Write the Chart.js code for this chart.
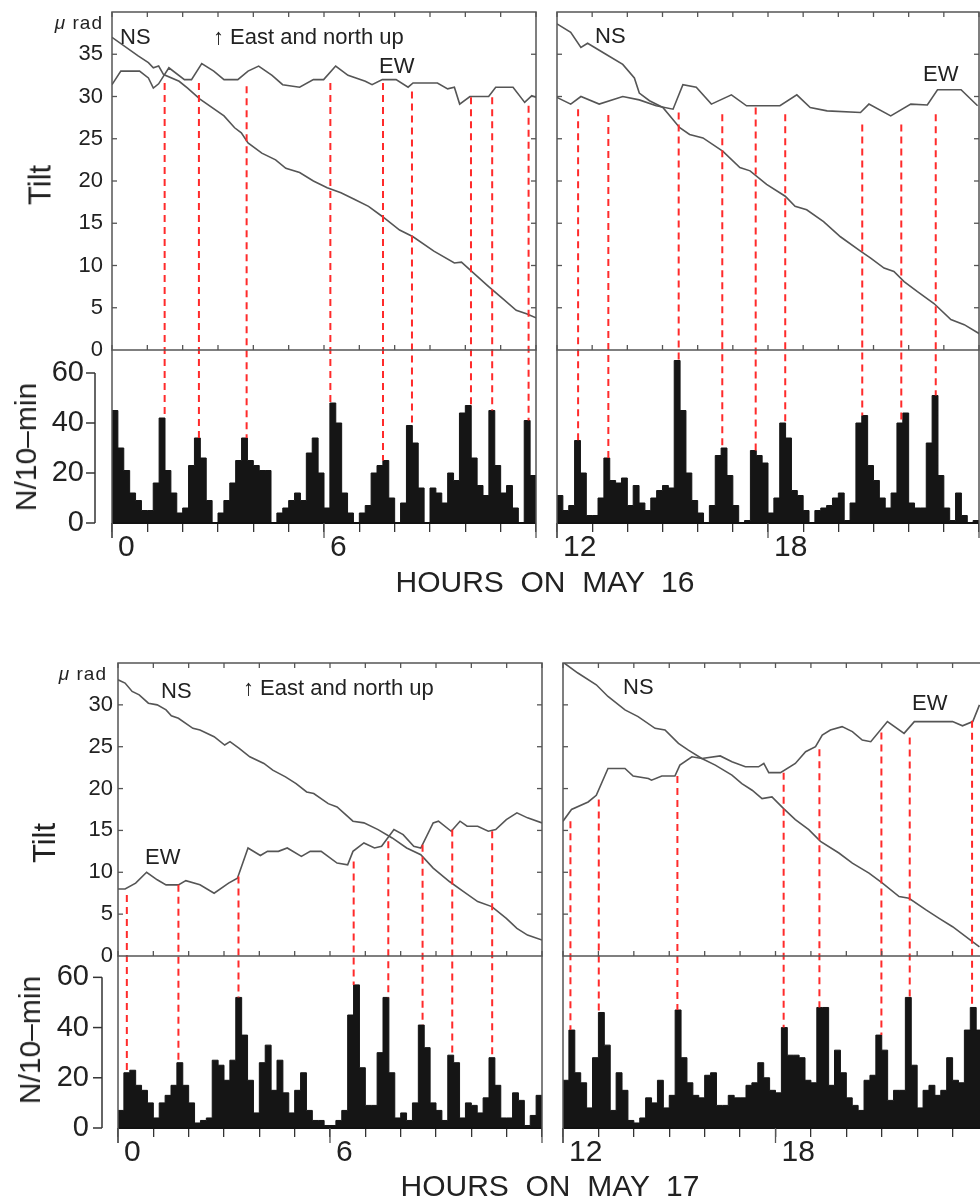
<!DOCTYPE html>
<html>
<head>
<meta charset="utf-8">
<title>Tilt and N/10-min, May 16-17</title>
<script src="https://cdn.jsdelivr.net/npm/chart.js@4.4.1/dist/chart.umd.min.js"></script>
<style>
  html, body { margin: 0; padding: 0; background: #fff; }
  body { position: relative; width: 980px; height: 1204px; overflow: hidden;
         font-family: 'Liberation Sans', Arial, sans-serif; color: #222; }
  canvas { position: absolute; }
  .lbl { position: absolute; white-space: pre; line-height: 1; transform: translateY(-50%); }
  .mid { position: absolute; white-space: pre; line-height: 1; transform: translate(-50%, -50%); }
  .up  { position: absolute; white-space: pre; line-height: 1; transform: translate(-50%, -50%) rotate(-90deg); }
</style>
</head>
<body>
<canvas id="c16a" width="545" height="575" style="left:0;top:0"></canvas>
<canvas id="c16b" width="460" height="575" style="left:540px;top:0"></canvas>
<canvas id="c17a" width="550" height="545" style="left:0;top:650px"></canvas>
<canvas id="c17b" width="455" height="545" style="left:545px;top:650px"></canvas>

<!-- May 16 -->
<div class="lbl" style="right:877px;top:22px;font-size:19px;letter-spacing:1px"><i>μ</i> rad</div>
<div class="lbl" style="left:120px;top:37px;font-size:22px">NS</div>
<div class="lbl" style="left:213px;top:37px;font-size:22px">↑ East and north up</div>
<div class="lbl" style="left:379px;top:66px;font-size:22px">EW</div>
<div class="lbl" style="left:595px;top:36px;font-size:22px">NS</div>
<div class="lbl" style="left:923px;top:74px;font-size:22px">EW</div>
<div class="up" style="left:40px;top:185px;font-size:31px">Tilt</div>
<div class="up" style="left:26px;top:447px;font-size:30px">N/10–min</div>
<div class="mid" style="left:545px;top:582px;font-size:30px">HOURS  ON  MAY  16</div>

<!-- May 17 -->
<div class="lbl" style="right:873px;top:673px;font-size:19px;letter-spacing:1px"><i>μ</i> rad</div>
<div class="lbl" style="left:161px;top:691px;font-size:22px">NS</div>
<div class="lbl" style="left:243px;top:688px;font-size:22px">↑ East and north up</div>
<div class="lbl" style="left:145px;top:857px;font-size:22px">EW</div>
<div class="lbl" style="left:623px;top:687px;font-size:22px">NS</div>
<div class="lbl" style="left:912px;top:703px;font-size:22px">EW</div>
<div class="up" style="left:44px;top:843px;font-size:31px">Tilt</div>
<div class="up" style="left:30px;top:1040px;font-size:30px">N/10–min</div>
<div class="mid" style="left:550px;top:1186px;font-size:30px">HOURS  ON  MAY  17</div>

<script>
const FONT = "'Liberation Sans', Arial, sans-serif";

// hour labels under the count histograms
const hourLabelsAM = [0, 6];
const hourLabelsPM = [12, 18];

// ---------- May 16 ----------
// earthquake counts per 10-min bin
const may16CountsAM = [45,30,21,12,9,5,5,16,42,21, 12,4,6,23,34,26,9,0,4,9, 16,25,34,25,23,21,21,0,4,6,
  9,12,9,28,34,20,6,48,40,12, 4,0,4,7,20,23,25,10,0,8, 39,32,14,0,14,12,8,20,17,44, 47,26,15,11,45,23,12,15,6,0, 41,19];
const may16CountsPM = [11,5,7,33,20,3,3,10,26,17, 16,18,7,15,8,5,10,13,15,14, 65,45,20,9,4,0,7,27,30,19,
  7,0,1,29,27,24,4,10,40,34, 13,11,5,0,5,6,7,10,12,1, 8,40,43,23,17,10,6,12,40,44, 8,6,6,32,51,19,6,1,12,3, 0,1];

// tilt curves, [hour, microradian]
const may16NSAM = [[0,37.0],[0.74,34.8],[1.03,34.0],[1.17,33.4],[1.32,33.6],[1.46,32.6],[1.9,31.8],[2.14,31.0],
  [2.49,29.7],[3.17,27.7],[3.47,26.3],[3.66,25.7],[3.85,24.5],[4.24,23.3],[4.63,22.5],[4.92,21.5],[5.31,21.0],
  [5.7,20.0],[6.09,19.2],[6.48,18.6],[6.87,17.8],[7.26,17.0],[7.65,15.8],[8.14,14.2],[8.52,13.4],[9.11,11.7],
  [9.69,10.3],[9.89,10.4],[10.18,9.3],[10.66,7.5],[11.05,6.1],[11.44,4.7],[11.73,4.3],[12,3.8]];
const may16EWAM = [[0,31.4],[0.25,33.0],[0.78,33.0],[1.03,32.2],[1.17,31.0],[1.32,31.5],[1.61,33.4],[2.05,32.0],
  [2.25,32.0],[2.54,33.9],[2.88,33.0],[3.17,32.0],[3.56,32.0],[3.85,33.0],[4.15,33.6],[4.53,32.5],[4.83,31.4],
  [5.31,31.1],[5.7,32.0],[5.99,32.0],[6.33,33.6],[6.68,32.5],[7.17,31.8],[7.36,31.4],[7.65,32.0],[8.04,32.0],
  [8.38,31.1],[8.52,31.6],[9.21,31.6],[9.5,30.9],[9.69,31.1],[9.84,29.1],[10.13,30.0],[10.66,30.0],[10.86,31.1],
  [11.35,31.1],[11.68,29.3],[11.88,30.1],[12,29.9]];
const may16NSPM = [[12,38.6],[12.39,37.6],[12.68,35.8],[12.87,36.3],[13.39,35.0],[13.87,33.8],[14.2,32.2],[14.34,30.4],
  [14.63,29.5],[15.01,28.7],[15.49,26.3],[15.77,25.5],[16.15,25.1],[16.72,23.5],[17.2,21.6],[17.49,21.2],[17.96,19.6],
  [18.49,18.2],[18.77,17.0],[19.1,16.6],[19.58,15.2],[20.06,13.4],[20.63,11.7],[20.91,10.9],[21.3,9.7],[21.58,9.3],
  [21.87,8.1],[22.25,6.9],[22.72,5.5],[23.2,3.6],[23.58,3.0],[24.06,1.8]];
const may16EWPM = [[12,29.9],[12.39,29.1],[12.68,30.0],[13.2,29.1],[13.87,30.0],[14.34,29.6],[14.82,28.9],[15.3,28.5],
  [15.58,31.4],[15.96,31.1],[16.39,29.1],[16.96,30.2],[17.39,28.9],[17.96,28.9],[18.34,28.9],[18.82,30.2],[19.2,28.7],
  [19.68,28.3],[20.63,28.1],[20.87,29.1],[21.49,27.7],[22.06,29.1],[22.53,29.0],[22.82,30.8],[23.49,30.8],[23.96,28.9]];

// red dashed markers: hour, tilt where the mark starts, count where it ends
const may16EventHoursAM = [1.49, 2.46, 3.81, 6.18, 7.67, 8.49, 10.16, 10.76, 11.79];
const may16EventTiltAM  = [31.6, 31.6, 31.2, 31.6, 31.6, 30.6, 29.9, 29.9, 28.9];
const may16EventCountAM = [42, 34, 34, 48, 25, 39, 47, 45, 41];
const may16EventHoursPM = [12.6, 13.46, 15.46, 16.7, 17.65, 18.49, 20.68, 21.79, 22.77];
const may16EventTiltPM  = [28.5, 27.8, 28.1, 27.9, 28.7, 27.9, 26.7, 26.7, 27.9];
const may16EventCountPM = [33, 26, 65, 30, 29, 40, 43, 40, 51];

// ---------- May 17 ----------
const may17CountsAM = [7,22,23,17,15,10,4,10,13,17, 26,17,10,2,3,4,27,25,19,27, 52,37,19,6,26,33,15,27,14,6,
  15,22,7,3,3,1,1,3,7,45, 57,24,9,9,30,52,22,4,6,3, 10,41,32,10,7,3,29,26,4,10, 9,6,12,28,17,4,4,14,11,1, 5,13];
const may17CountsPM = [19,39,22,18,8,28,46,33,7,22, 15,3,2,4,12,10,19,8,13,47, 28,18,13,12,21,22,9,9,13,12,
  12,17,18,26,20,15,14,40,29,29, 28,19,18,48,48,17,31,22,12,9, 7,19,21,37,31,11,15,15,52,25, 8,15,17,13,15,28,19,18,39,48, 39];

const may17NSAM = [[0,33.0],[0.2,32.6],[0.4,31.6],[0.6,31.2],[0.86,30.2],[1.11,30.0],[1.36,29.4],[1.51,28.7],[1.71,28.4],
  [2.12,27.2],[2.32,27.0],[2.72,26.2],[3.02,25.2],[3.17,25.6],[3.43,24.8],[3.73,23.8],[4.13,23.0],[4.38,22.2],[4.74,21.4],
  [5.04,20.6],[5.34,19.6],[5.54,19.4],[5.95,18.2],[6.2,17.8],[6.65,16.1],[6.96,15.9],[7.36,15.1],[7.76,14.1],[8.17,12.9],
  [8.57,12.1],[8.92,10.5],[9.38,8.9],[9.78,7.7],[10.18,6.5],[10.58,5.9],[10.99,4.5],[11.29,3.3],[11.59,2.5],[12,1.9]];
const may17EWAM = [[0,8.0],[0.2,8.0],[0.5,8.7],[0.81,10.0],[1.11,9.1],[1.36,8.5],[1.71,8.5],[1.92,9.0],[2.32,8.5],
  [2.72,7.5],[3.13,8.7],[3.38,9.3],[3.68,12.9],[4.03,12.0],[4.23,12.5],[4.54,12.5],[4.79,12.9],[5.19,11.9],[5.44,12.5],
  [5.75,12.5],[6.2,11.1],[6.5,10.9],[6.65,12.5],[6.96,13.5],[7.26,12.9],[7.46,13.1],[7.81,15.1],[8.07,14.5],[8.37,13.1],
  [8.57,12.9],[8.92,15.9],[9.07,16.1],[9.43,14.9],[9.68,16.1],[9.88,15.5],[10.18,15.5],[10.48,14.9],[10.69,15.1],
  [10.99,16.3],[11.29,17.1],[11.59,16.5],[12,15.9]];
const may17NSPM = [[12,35.1],[12.42,33.8],[12.94,32.4],[13.27,31.0],[13.75,29.4],[14.12,28.6],[14.6,27.2],[14.88,27.0],
  [15.26,25.4],[15.54,24.6],[15.92,23.6],[16.3,22.8],[16.77,21.6],[17.05,20.6],[17.34,19.8],[17.62,18.8],[17.9,19.0],
  [18.23,17.6],[18.56,16.3],[18.94,15.1],[19.27,13.7],[19.79,12.3],[20.17,11.1],[20.64,9.9],[21.02,8.7],[21.49,7.1],
  [21.77,6.9],[22.25,5.5],[22.62,4.5],[23.0,3.5],[23.57,1.7],[23.76,1.1]];
const may17EWPM = [[12,16.1],[12.24,17.5],[12.71,18.4],[12.94,19.2],[13.27,22.4],[13.75,22.4],[13.98,21.5],[14.41,21.2],
  [14.5,21.0],[14.79,21.5],[15.16,21.5],[15.3,22.8],[15.64,23.8],[15.92,23.6],[16.44,23.9],[16.77,23.2],[17.15,22.6],
  [17.52,22.6],[17.67,23.0],[17.81,21.9],[18.14,21.9],[18.56,23.0],[18.85,24.4],[19.13,25.0],[19.32,26.4],[19.55,27.0],
  [19.88,27.4],[20.17,26.8],[20.45,25.8],[20.69,25.6],[21.16,28.0],[21.63,26.6],[21.92,28.0],[23.0,28.0],[23.28,27.5],
  [23.57,28.0],[23.76,30.0]];

const may17EventHoursAM = [0.25, 1.71, 3.41, 6.67, 7.65, 8.62, 9.46, 10.59];
const may17EventTiltAM  = [7.3, 8.5, 9.5, 11.3, 13.7, 13.3, 15.1, 14.9];
const may17EventCountAM = [22, 26, 52, 57, 52, 41, 29, 28];
const may17EventHoursPM = [12.21, 13.01, 15.23, 18.23, 19.24, 20.99, 21.79, 23.55];
const may17EventTiltPM  = [16.1, 18.7, 21.5, 21.9, 24.7, 26.7, 26.1, 28.1];
const may17EventCountPM = [39, 46, 47, 40, 48, 37, 52, 48];

// frame, inward ticks, offset count axis and the red dashed markers
const framePlugin = {
  id: 'frame',
  afterDatasetsDraw(chart, args, o) {
    const {ctx, chartArea: a, scales: {x, yT, yH}} = chart;
    const zero = yT.getPixelForValue(0);
    const seg = (x1, y1, x2, y2) => { ctx.beginPath(); ctx.moveTo(x1, y1); ctx.lineTo(x2, y2); ctx.stroke(); };
    ctx.save();

    ctx.strokeStyle = '#ff2b2b';
    ctx.lineWidth = 2;
    ctx.setLineDash([7, 5]);
    o.hours.forEach((h, i) => {
      const px = x.getPixelForValue(h);
      seg(px, yT.getPixelForValue(o.tilt[i]), px, yH.getPixelForValue(o.count[i]));
    });
    ctx.setLineDash([]);

    ctx.strokeStyle = '#111';
    ctx.lineWidth = 2;
    seg(a.left, a.bottom, a.right, a.bottom);

    ctx.strokeStyle = '#555';
    ctx.lineWidth = 1.5;
    ctx.strokeRect(a.left, a.top, a.right - a.left, zero - a.top);
    seg(a.left, zero, a.left, a.bottom + 15);
    seg(a.right, zero, a.right, a.bottom);

    ctx.lineWidth = 1.3;
    for (let h = x.min; h <= x.max; h++) {
      const px = x.getPixelForValue(h);
      seg(px, a.top, px, a.top + 5);
      seg(px, zero, px, zero - 5);
      if (h % 6 === 0) seg(px, a.bottom, px, a.bottom + 15);
    }
    for (let v = 5; v < yT.max; v += 5) {
      const py = yT.getPixelForValue(v);
      seg(a.left, py, a.left + 5, py);
      seg(a.right, py, a.right - 5, py);
    }

    if (o.bracket) {
      const bx = a.left - o.bracket;
      ctx.strokeStyle = '#333';
      ctx.lineWidth = 1.5;
      seg(bx, yH.getPixelForValue(0), bx, yH.getPixelForValue(60));
      yH.ticks.forEach(t => {
        const py = yH.getPixelForValue(t.value);
        seg(bx - 9, py, bx, py);
      });
    }
    ctx.restore();
  }
};

function pairs(arr) {
  return arr.map(p => ({x: p[0], y: p[1]}));
}

function bins(start, counts) {
  const pts = counts.map((c, i) => ({x: start + i / 6, y: c}));
  pts.push({x: start + counts.length / 6, y: counts[counts.length - 1]});
  return pts;
}

// keep the layout from reserving room for half-label overhangs
function fixY(w) {
  return s => { s.width = w; s.paddingTop = 0; s.paddingBottom = 0; };
}
function fixX(h) {
  return s => { s.height = h; s.paddingLeft = 0; s.paddingRight = 0; };
}

function makePanel(id, p) {
  return new Chart(document.getElementById(id), {
    type: 'line',
    data: {
      datasets: [
        {data: bins(p.start, p.counts), yAxisID: 'yH', stepped: true, fill: 'origin',
         backgroundColor: '#151515', borderColor: '#151515', borderWidth: 1, pointRadius: 0},
        {data: pairs(p.ns), yAxisID: 'yT', borderColor: '#555', borderWidth: 1.6, pointRadius: 0, fill: false},
        {data: pairs(p.ew), yAxisID: 'yT', borderColor: '#555', borderWidth: 1.6, pointRadius: 0, fill: false}
      ]
    },
    options: {
      responsive: false,
      animation: false,
      events: [],
      layout: {padding: {top: p.padTop, right: p.padRight, left: 0, bottom: 0}},
      plugins: {
        legend: {display: false},
        tooltip: {enabled: false},
        frame: {hours: p.evHours, tilt: p.evTilt, count: p.evCount, bracket: p.bracket}
      },
      scales: {
        x: {
          type: 'linear', min: p.start, max: p.start + 12,
          grid: {drawOnChartArea: false, drawTicks: true, tickLength: 9, color: '#333', lineWidth: 1.3},
          border: {display: false},
          ticks: {
            stepSize: 1, autoSkip: false, maxRotation: 0, align: 'start', labelOffset: 6, padding: -2,
            color: '#222', font: {family: FONT, size: 30},
            callback: v => p.xLabels.includes(v) ? String(v) : ''
          },
          afterFit: fixX(p.xAxisH)
        },
        yH: {
          type: 'linear', position: 'left', stack: 'panel', stackWeight: p.histH, weight: 0,
          min: 0, max: p.histMax,
          grid: {display: false, drawTicks: false}, border: {display: false},
          ticks: {display: p.showY, autoSkip: false, stepSize: 20, includeBounds: false, padding: p.histPad,
                  color: '#222', font: {family: FONT, size: 29}},
          afterFit: fixY(p.axisW)
        },
        yT: {
          type: 'linear', position: 'left', stack: 'panel', stackWeight: p.tiltH, weight: 1,
          min: 0, max: p.tiltMax,
          grid: {display: false, drawTicks: false}, border: {display: false},
          ticks: {display: p.showY, autoSkip: false, stepSize: 5, padding: p.tiltPad, color: '#222',
                  font: {family: FONT, size: 22},
                  callback: v => v < p.tiltMax ? String(v) : ''},
          afterFit: fixY(p.axisW)
        }
      }
    },
    plugins: [framePlugin]
  });
}

makePanel('c16a', {start: 0, counts: may16CountsAM, ns: may16NSAM, ew: may16EWAM,
  evHours: may16EventHoursAM, evTilt: may16EventTiltAM, evCount: may16EventCountAM,
  xLabels: hourLabelsAM, showY: true, bracket: 17, axisW: 112, padTop: 12, padRight: 9, xAxisH: 52,
  tiltH: 338, histH: 173, tiltMax: 40, histMax: 69.2, tiltPad: 9, histPad: 28});

makePanel('c16b', {start: 12, counts: may16CountsPM, ns: may16NSPM, ew: may16EWPM,
  evHours: may16EventHoursPM, evTilt: may16EventTiltPM, evCount: may16EventCountPM,
  xLabels: hourLabelsPM, showY: false, bracket: 0, axisW: 17, padTop: 12, padRight: 21, xAxisH: 52,
  tiltH: 338, histH: 173, tiltMax: 40, histMax: 69.2, tiltPad: 9, histPad: 28});

makePanel('c17a', {start: 0, counts: may17CountsAM, ns: may17NSAM, ew: may17EWAM,
  evHours: may17EventHoursAM, evTilt: may17EventTiltAM, evCount: may17EventCountAM,
  xLabels: hourLabelsAM, showY: true, bracket: 16, axisW: 118, padTop: 13, padRight: 8, xAxisH: 67,
  tiltH: 293, histH: 172, tiltMax: 35, histMax: 68.5, tiltPad: 5, histPad: 29});

makePanel('c17b', {start: 12, counts: may17CountsPM, ns: may17NSPM, ew: may17EWPM,
  evHours: may17EventHoursPM, evTilt: may17EventTiltPM, evCount: may17EventCountPM,
  xLabels: hourLabelsPM, showY: false, bracket: 0, axisW: 18, padTop: 13, padRight: 12, xAxisH: 67,
  tiltH: 293, histH: 172, tiltMax: 35, histMax: 68.5, tiltPad: 5, histPad: 29});
</script>
</body>
</html>
